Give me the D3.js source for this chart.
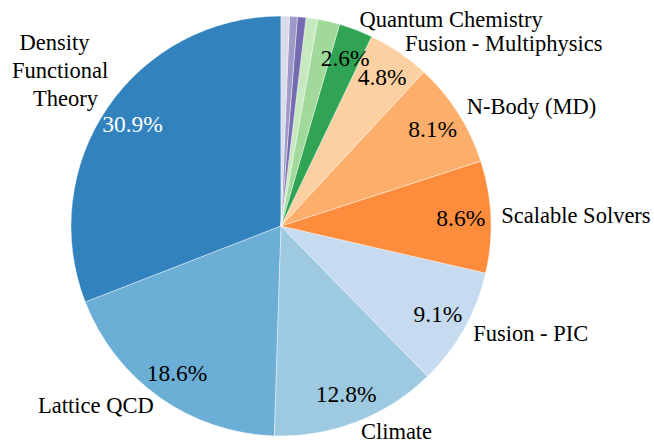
<!DOCTYPE html>
<html><head><meta charset="utf-8"><script src="https://cdn.jsdelivr.net/npm/d3@7"></script></head>
<body style="margin:0">
<svg id="s" width="654" height="441"></svg>
<script>
// slice names (empty = unlabeled small slice), shares in percent, colours
const labels = ['Density Functional Theory', 'Lattice QCD', 'Climate', 'Fusion - PIC',
    'Scalable Solvers', 'N-Body (MD)', 'Fusion - Multiphysics', 'Quantum Chemistry',
    '', '', '', '', ''];
const values = [30.9, 18.6, 12.8, 9.1, 8.6, 8.1, 4.8, 2.6, 1.7, 0.9, 0.65, 0.6, 0.65];
const colors = ['#3182bd', '#6baed6', '#9ecae1', '#c6dbef', '#fd8d3c', '#fdae6b',
    '#fdd0a2', '#31a354', '#a1d99b', '#c7e9c0', '#756bb1', '#9e9ac8', '#dadaeb'];
const dftLines = ['Density', 'Functional', 'Theory'];

const cx = 281, cy = 226, radius = 210;
const labelDist = 1.05, pctDist = 0.857;
const FONT = '"Liberation Serif"';

const svg = d3.select('#s');
const g = svg.append('g').attr('transform', `translate(${cx},${cy})`);

const data = labels.map((l, i) => ({ label: l, value: values[i], color: colors[i] }));

// counter-clockwise from 12 o'clock
const pie = d3.pie()
    .sort(null)
    .value(d => d.value)
    .startAngle(0)
    .endAngle(-2 * Math.PI);

const arcs = pie(data);
const arc = d3.arc().innerRadius(0).outerRadius(radius);

g.selectAll(null)
    .data(arcs)
    .enter()
    .append('path')
    .attr('d', arc)
    .attr('fill', d => d.data.color)
    .attr('stroke', '#fff')
    .attr('stroke-width', 0.4);

function point(d, dist) {
    const a = (d.startAngle + d.endAngle) / 2;
    return [Math.sin(a) * radius * dist, -Math.cos(a) * radius * dist];
}

// percentage labels
arcs.filter(d => d.data.value >= 2).forEach(d => {
    const p = point(d, pctDist);
    g.append('text')
        .attr('x', p[0])
        .attr('y', p[1] + 8)
        .attr('text-anchor', 'middle')
        .style('font-family', FONT, 'important')
        .attr('font-size', 23.5)
        .attr('fill', d.index === 0 ? '#fff' : '#000')
        .text(d.data.value.toFixed(1) + '%');
});

// outer labels
arcs.filter(d => d.data.label && d.index > 0).forEach(d => {
    const p = point(d, labelDist);
    g.append('text')
        .attr('x', p[0])
        .attr('y', p[1] + 7)
        .attr('text-anchor', p[0] > 0 ? 'start' : 'end')
        .style('font-family', FONT, 'important')
        .attr('font-size', 22.5)
        .text(d.data.label);
});

// the first label is split over three lines
const p0 = point(arcs[0], labelDist);
dftLines.forEach((line, i) => {
    g.append('text')
        .attr('x', p0[0] - 44.5 + i * 5.5)
        .attr('y', p0[1] - 52 + i * 28)
        .attr('text-anchor', 'middle')
        .style('font-family', FONT, 'important')
        .attr('font-size', 22.5)
        .text(line);
});
</script></body></html>
